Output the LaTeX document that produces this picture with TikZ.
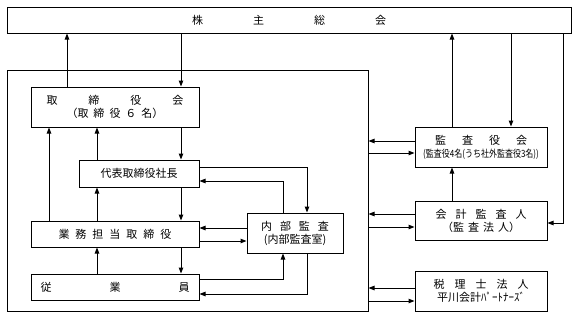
\documentclass[tikz,border=0pt]{standalone}
\usepackage{fontspec}
\usepackage{graphicx}
\newfontfamily\jp{Noto Sans CJK JP}
\usetikzlibrary{arrows.meta}

\begin{document}
\begin{tikzpicture}[x=1pt,y=-1pt,line width=1pt,>={Triangle[length=6pt,width=4.5pt]},
        box/.style={draw,rectangle,inner sep=0pt,align=center,font=\jp\fontsize{11}{13}\selectfont}]
        \useasboundingbox (0,0) rectangle (577,317);
        % boxes
        \node[box,minimum width=564pt,minimum height=26pt] (kabu) at (289,20) {株\hspace{50pt}主\hspace{50pt}総\hspace{50pt}会};
        \node[box,minimum width=361pt,minimum height=241pt] (honsha) at (187.5,190.5) {};
        \node[box,minimum width=168pt,minimum height=40pt] (tori) at (115,107) {取\hspace{31pt}締\hspace{31pt}役\hspace{31pt}会\\（取\hspace{5pt}締\hspace{5pt}役\hspace{5pt}６\hspace{5pt}名）};
        \node[box,minimum width=120pt,minimum height=27pt] (daihyo) at (139,173.5) {代表取締役社長};
        \node[box,minimum width=168pt,minimum height=26pt] (gyomu) at (115,234) {業\hspace{6pt}務\hspace{6pt}担\hspace{6pt}当\hspace{6pt}取\hspace{6pt}締\hspace{6pt}役};
        \node[box,minimum width=168pt,minimum height=26pt] (jugyo) at (115,287) {従\hspace{58pt}業\hspace{58pt}員};
        \node[box,minimum width=96pt,minimum height=40pt] (naibu) at (295,233) {内\hspace{8pt}部\hspace{8pt}監\hspace{8pt}査\\(内部監査室)};
        \node[box,minimum width=132pt,minimum height=40pt] (kansa) at (481,147) {監\hspace{16pt}査\hspace{16pt}役\hspace{16pt}会\\\scalebox{0.8}[1]{\fontsize{10}{12}\selectfont(監査役4名(うち社外監査役3名))}};
        \node[box,minimum width=132pt,minimum height=39pt] (kaikei) at (481,220.5) {会\hspace{9pt}計\hspace{9pt}監\hspace{9pt}査\hspace{9pt}人\\（監\hspace{4pt}査\hspace{4pt}法\hspace{4pt}人）};
        \node[box,minimum width=132pt,minimum height=40pt] (zeiri) at (481,291) {税\hspace{10pt}理\hspace{10pt}士\hspace{10pt}法\hspace{10pt}人\\平川会計ﾊﾟｰﾄﾅｰｽﾞ};
        % shareholders
        \draw[->] (tori.north -| 67,0) -- (kabu.south -| 67,0);
        \draw[->] (kabu.south -| 181,0) -- (tori.north -| 181,0);
        \draw[->] (kansa.north -| 452,0) -- (kabu.south -| 452,0);
        \draw[->] (kabu.south -| 511,0) -- (kansa.north -| 511,0);
        \draw[->] (kabu.south -| 563,0) |- (kaikei.east |- 0,223);
        \draw[->] (kaikei.north -| 452,0) -- (kansa.south -| 452,0);
        % outside bodies
        \draw[->] (kansa.west |- 0,141) -- (honsha.east |- 0,141);
        \draw[->] (honsha.east |- 0,153) -- (kansa.west |- 0,153);
        \draw[->] (kaikei.west |- 0,214) -- (honsha.east |- 0,214);
        \draw[->] (honsha.east |- 0,227) -- (kaikei.west |- 0,227);
        \draw[->] (zeiri.west |- 0,288) -- (honsha.east |- 0,288);
        \draw[->] (honsha.east |- 0,301) -- (zeiri.west |- 0,301);
        % inside the company
        \draw[->] (gyomu.north -| 49,0) -- (tori.south -| 49,0);
        \draw[->] (daihyo.north -| 97,0) -- (tori.south -| 97,0);
        \draw[->] (tori.south -| 181,0) -- (daihyo.north -| 181,0);
        \draw[->] (daihyo.east |- 0,167) -| (naibu.north -| 307,0);
        \draw[->] (naibu.north -| 283,0) |- (daihyo.east |- 0,181);
        \draw[->] (daihyo.south -| 181,0) -- (gyomu.north -| 181,0);
        \draw[->] (gyomu.north -| 97,0) -- (daihyo.south -| 97,0);
        \draw[->] (naibu.west |- 0,228) -- (gyomu.east |- 0,228);
        \draw[->] (gyomu.east |- 0,241) -- (naibu.west |- 0,241);
        \draw[->] (gyomu.south -| 181,0) -- (jugyo.north -| 181,0);
        \draw[->] (jugyo.north -| 97,0) -- (gyomu.south -| 97,0);
        \draw[->] (jugyo.east |- 0,279) -| (naibu.south -| 283,0);
        \draw[->] (naibu.south -| 307,0) |- (jugyo.east |- 0,294);
    \end{tikzpicture}
\end{document}
